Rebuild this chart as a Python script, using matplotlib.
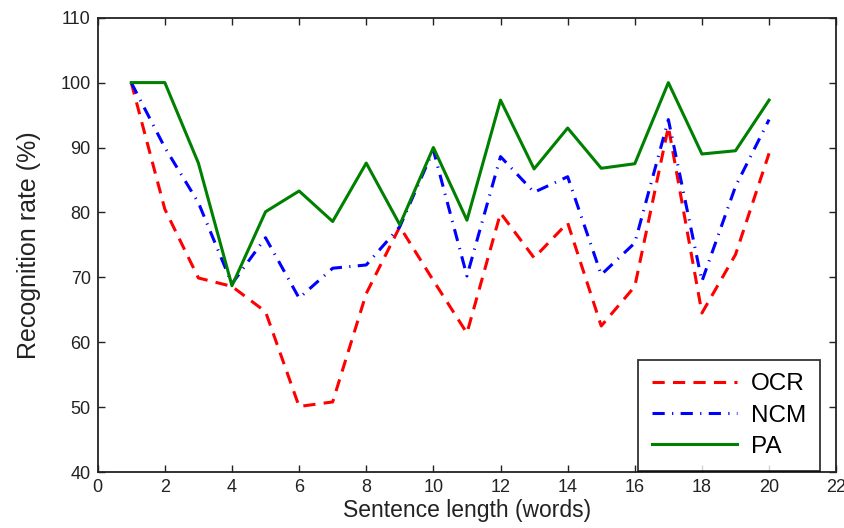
import matplotlib
matplotlib.use('Agg')
import matplotlib.pyplot as plt

plt.rcParams['font.family'] = ['Liberation Sans', 'DejaVu Sans']

# sentence length in words
lengths = list(range(1, 21))

ocr = [100, 80.5, 69.9, 68.6, 64.7, 50.1, 50.8, 67.5, 77.8, 69.5,
       61.4, 79.9, 73.0, 78.4, 62.5, 68.6, 93.2, 64.5, 73.5, 89.1]
ncm = [100, 90.0, 81.5, 69.0, 76.1, 66.8, 71.4, 71.9, 77.8, 89.6,
       70.2, 88.6, 83.1, 85.5, 70.4, 75.3, 94.3, 69.4, 84.0, 94.3]
pa = [100, 100, 87.6, 68.7, 80.1, 83.3, 78.6, 87.6, 78.1, 90.0,
      78.8, 97.3, 86.7, 93.0, 86.8, 87.5, 100, 89.0, 89.5, 97.3]

xticks = list(range(0, 23, 2))
yticks = list(range(40, 111, 10))


def main():
    fig = plt.figure(figsize=(8.45, 5.28), dpi=100)
    ax = fig.add_axes([0.1156, 0.106, 0.874, 0.8605])

    ax.plot(lengths, ocr, color=(1, 0, 0), linestyle=(0, (4, 2.7)),
            linewidth=2.2, label='OCR')
    ax.plot(lengths, ncm, color=(0, 0, 1), linestyle=(0, (4, 2.4, 0.4, 2.4)),
            linewidth=2.2, label='NCM')
    ax.plot(lengths, pa, color=(0, 0.5, 0), linestyle='-',
            linewidth=2.2, label='PA')

    ax.set_xlim(0, 22)
    ax.set_ylim(40, 110)
    ax.set_xticks(xticks)
    ax.set_yticks(yticks)
    ax.tick_params(direction='in', top=True, right=True, length=5,
                   width=1, labelsize=13, colors='#222222', pad=5)
    for sp in ax.spines.values():
        sp.set_linewidth(1.3)
        sp.set_color('#222222')

    ax.set_xlabel('Sentence length (words)', fontsize=16.5, labelpad=2,
                  color='#222222')
    ax.set_ylabel('Recognition rate (%)', fontsize=18, labelpad=14,
                  color='#222222')

    leg = ax.legend(loc='lower right', bbox_to_anchor=(0.978, 0.002),
                    borderaxespad=0, fancybox=False, fontsize=17.5,
                    handlelength=3.5, labelspacing=0.38, borderpad=0.55,
                    handletextpad=0.6)
    leg.get_frame().set_edgecolor('black')
    leg.get_frame().set_linewidth(1.3)

    fig.savefig('out.png', dpi=100)


if __name__ == "__main__":
    main()
